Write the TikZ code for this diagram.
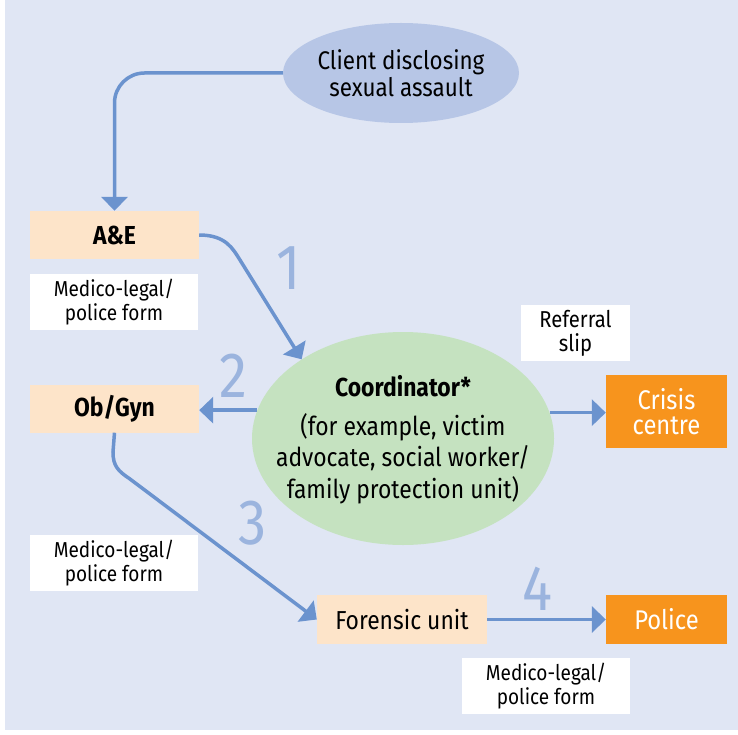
\documentclass[tikz,border=0pt]{standalone}
\usepackage{fontspec}
\setmainfont{Fira Sans}[FakeStretch=0.88]
\usetikzlibrary{arrows.meta,shapes.geometric}
\definecolor{bgc}{HTML}{E0E6F4}
\definecolor{clientc}{HTML}{B7C6E6}
\definecolor{arrc}{HTML}{6B93CE}
\definecolor{numc}{HTML}{9BB4DE}
\definecolor{peach}{HTML}{FDE4C9}
\definecolor{greenc}{HTML}{C5E2C0}
\definecolor{orangec}{HTML}{F7941D}
\tikzset{
  peachbox/.style={fill=peach, minimum width=169pt, minimum height=48pt, inner sep=0pt, font=\fontsize{26}{28}\selectfont},
  formbox/.style={fill=white, minimum width=168pt, minimum height=56pt, inner sep=0pt, align=center, font=\fontsize{21.6}{24}\selectfont},
  orangebox/.style={fill=orangec, text=white, minimum width=121pt, inner sep=0pt, align=center, font=\fontsize{27}{25}\selectfont},
  flow/.style={draw=arrc, line width=3.5pt, -{Triangle[length=14pt,width=26pt]}},
  numlabel/.style={text=numc, font=\fontsize{64}{64}\selectfont, inner sep=0pt},
  plaintext/.style={inner sep=0pt, align=center}
}
\begin{document}
\begin{tikzpicture}[x=1pt,y=-1pt]
\useasboundingbox (0,0) rectangle (738,735);
\fill[bgc] (5,0) rectangle (738,730);

\node[ellipse, fill=clientc, minimum width=236pt, minimum height=100pt, inner sep=0pt] (client) at (401,73) {};
\node[plaintext, font=\fontsize{25.5}{27}\selectfont] (clienttext) at (client.center) {Client disclosing\\sexual assault};

\node[peachbox, font=\fontsize{26}{28}\selectfont\bfseries] (ae) at (114.5,235) {A\&E};
\node[formbox] (form1) at (114,302) {Medico-legal/\\police form};
\node[peachbox, font=\fontsize{26}{28}\selectfont\bfseries] (ob) at (114.5,408.5) {Ob/Gyn};
\node[formbox] (form2) at (114,563) {Medico-legal/\\police form};

\node[ellipse, fill=greenc, minimum width=302pt, minimum height=213pt, inner sep=0pt] (coord) at (403,438.5) {};
\node[plaintext, font=\fontsize{26}{31.5}\selectfont] (coordtext) at ([yshift=-1pt]coord.center) {{\bfseries Coordinator*}\\[7pt](for example, victim\\advocate, social worker/\\family protection unit)};

\node[formbox, minimum width=109pt, font=\fontsize{23}{24}\selectfont] (slip) at (575.5,333) {Referral\\slip};
\node[orangebox, minimum height=73pt] (crisis) at (666.5,411.5) {Crisis\\centre};

\node[peachbox, minimum width=170pt, minimum height=49pt] (fu) at (402,619.5) {Forensic unit};
\node[orangebox, minimum height=49pt] (police) at (666.5,619.5) {Police};
\node[formbox] (form3) at (546,686) {Medico-legal/\\police form};

\node[numlabel] (n1) at (289,268) {1};
\node[numlabel] (n2) at (233,376) {2};
\node[numlabel] (n3) at (253,523) {3};
\node[numlabel] (n4) at (537,589) {4};

\draw[flow, rounded corners=30pt] (client.west) -| (ae.north);
\draw[flow] (ae.east) .. controls (226,235) and (233,249) .. (240,260) -- (coord.142);
\draw[flow] (coord.169.5) -- (coord.169.5 -| ob.east);
\draw[flow] (coord.10.5) -- (coord.10.5 -| crisis.west);
\draw[flow] (ob.south) -- (113,452) .. controls (113,466) and (118,471) .. (130,479) -- (fu.west);
\draw[flow] (fu.east) -- (police.west);
\end{tikzpicture}
\end{document}
